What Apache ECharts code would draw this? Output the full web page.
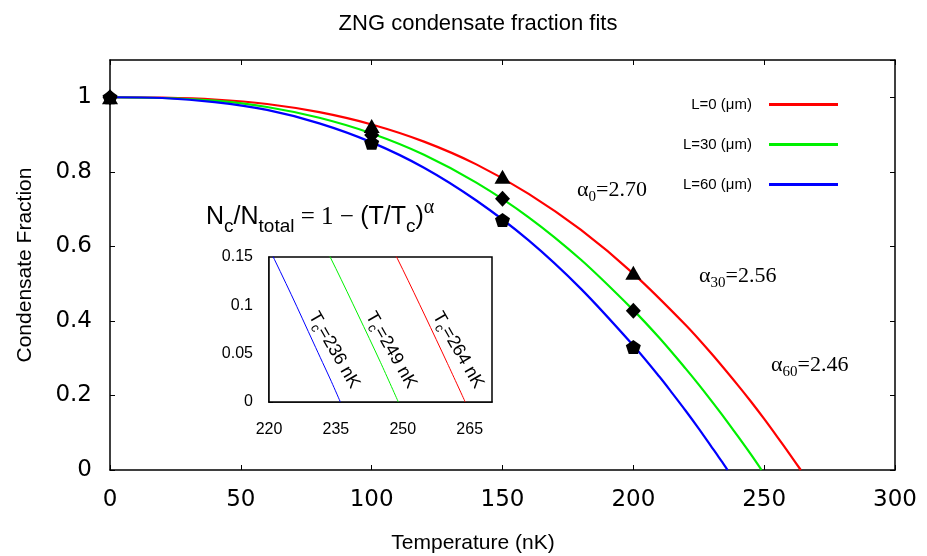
<!DOCTYPE html>
<html>
<head>
<meta charset="utf-8">
<script src="https://cdn.jsdelivr.net/npm/echarts@6/dist/echarts.min.js"></script>
<style>html,body{margin:0;padding:0;background:#fff}#c{width:927px;height:556px}</style>
</head>
<body>
<div id="c"></div>
<script>
// ---- data ----
const seriesNames = ['L=0 (μm)', 'L=30 (μm)', 'L=60 (μm)'];
const lineColors = ['#ff0000', '#00f000', '#0000ff'];

// fitted curves (temperature nK, condensate fraction)
const fitT0  = [0, 20, 40, 60, 80, 100, 120, 140, 160, 180, 200, 220, 230, 240, 245, 250, 255, 260, 264];
const fitN0  = [1, 0.999, 0.994, 0.982, 0.960, 0.927, 0.881, 0.820, 0.741, 0.644, 0.527, 0.389, 0.311, 0.227, 0.183, 0.137, 0.089, 0.040, 0];
const fitT30 = [0, 20, 40, 60, 80, 100, 120, 140, 160, 180, 200, 210, 220, 225, 230, 235, 240, 245, 249];
const fitN30 = [1, 0.998, 0.991, 0.974, 0.945, 0.903, 0.846, 0.771, 0.678, 0.564, 0.429, 0.354, 0.272, 0.229, 0.184, 0.138, 0.090, 0.041, 0];
const fitT60 = [0, 20, 40, 60, 80, 100, 120, 140, 160, 180, 200, 210, 215, 220, 225, 230, 232, 234, 236];
const fitN60 = [1, 0.998, 0.987, 0.966, 0.930, 0.879, 0.811, 0.723, 0.616, 0.486, 0.334, 0.250, 0.205, 0.159, 0.111, 0.061, 0.041, 0.021, 0];

// measured points
const markT = [0, 100, 150, 200];
const markN0  = [1, 0.923, 0.787, 0.529];
const markN30 = [1, 0.899, 0.728, 0.427];
const markN60 = [1, 0.878, 0.671, 0.330];

// axis ticks
const xTicksMain = [0, 300, 50];
const yTicksMain = [0, 1.1, 0.2];
const insetXLabels = [220, 235, 250, 265];
const insetX = [220, 270];
const insetY = [0, 0.15, 0.05];

// annotations
const alphaLabels = [['0', '2.70'], ['30', '2.56'], ['60', '2.46']];
const tcLabels = ['236', '249', '264'];

// ---- build ----
const pair = (xs, ys) => xs.map((x, i) => [x, ys[i]]);
const fits = [pair(fitT0, fitN0), pair(fitT30, fitN30), pair(fitT60, fitN60)];
const marks = [pair(markT, markN0), pair(markT, markN30), pair(markT, markN60)];
const symbols = ['triangle', 'diamond', 'path://M0,-1 L0.951,-0.309 L0.588,0.809 L-0.588,0.809 L-0.951,-0.309 Z'];
const symSizes = [[16, 14], [15, 16], [15, 14]];

const SANS = '"Liberation Sans", Helvetica, Arial, sans-serif';
const SERIF = '"Liberation Serif", "Times New Roman", serif';
const TICKF = '"DejaVu Sans", "Liberation Sans", sans-serif';

const chart = echarts.init(document.getElementById('c'), null, {renderer: 'canvas'});

const axLine = {onZero: false, lineStyle: {color: '#000', width: 1.5}};
const series = [];
fits.forEach((d, i) => {
  series.push({
    name: seriesNames[i], type: 'line', data: d, xAxisIndex: 0, yAxisIndex: 0,
    showSymbol: false, smooth: 0.3, lineStyle: {color: lineColors[i], width: 2.2},
    itemStyle: {color: lineColors[i]}, z: 3, silent: true
  });
});
fits.forEach((d, i) => {
  series.push({
    name: seriesNames[i], type: 'line', data: d, xAxisIndex: 2, yAxisIndex: 2,
    showSymbol: false, smooth: 0.3, clip: true, lineStyle: {color: lineColors[i], width: 1},
    itemStyle: {color: lineColors[i]}, z: 6, silent: true
  });
});
marks.forEach((d, i) => {
  series.push({
    type: 'scatter', data: d, xAxisIndex: 0, yAxisIndex: 0,
    symbol: symbols[i], symbolSize: symSizes[i], itemStyle: {color: '#000', opacity: 1}, z: 7 + i, silent: true
  });
});

const alphaRich = {
  a: {fontFamily: SERIF, fontSize: 22, color: '#000', lineHeight: 30, verticalAlign: 'middle'},
  s: {fontFamily: SERIF, fontSize: 15, color: '#000', lineHeight: 30, verticalAlign: 'bottom'}
};
const alphaPos = [[577, 190], [699, 276], [771, 365]];
const tcPos = [[334, 350], [391, 350], [458, 350]];

const graphic = [];
alphaLabels.forEach((a, i) => {
  graphic.push({
    type: 'text', x: alphaPos[i][0], y: alphaPos[i][1], z: 20,
    style: {text: '{a|α}{s|' + a[0] + '}{a|=' + a[1] + '}', rich: alphaRich, verticalAlign: 'middle', align: 'left'}
  });
});
tcLabels.forEach((t, i) => {
  graphic.push({
    type: 'text', x: tcPos[i][0], y: tcPos[i][1], rotation: -Math.PI * 60 / 180, z: 20,
    style: {
      text: '{a|T}{s|c}{a|=' + t + ' nK}', align: 'center', verticalAlign: 'middle',
      rich: {
        a: {fontFamily: SANS, fontSize: 18, color: '#000', lineHeight: 24, verticalAlign: 'middle'},
        s: {fontFamily: SANS, fontSize: 13, color: '#000', lineHeight: 24, verticalAlign: 'bottom'}
      }
    }
  });
});
// formula
graphic.push({
  type: 'text', x: 206, y: 217, z: 20,
  style: {
    text: '{n|N}{s|c}{n|/N}{s|total}{m| = 1 − }{n|(T/T}{s|c}{n|)}{p|α}',
    verticalAlign: 'middle', align: 'left',
    rich: {
      n: {fontFamily: SANS, fontSize: 25, color: '#000', lineHeight: 38, verticalAlign: 'middle'},
      m: {fontFamily: SERIF, fontSize: 25, color: '#000', lineHeight: 38, verticalAlign: 'middle'},
      s: {fontFamily: SANS, fontSize: 19, color: '#000', lineHeight: 38, verticalAlign: 'bottom'},
      p: {fontFamily: SERIF, fontSize: 20, color: '#000', lineHeight: 38, verticalAlign: 'top'}
    }
  }
});
// axis names
graphic.push({
  type: 'text', x: 473, y: 543, z: 20,
  style: {text: 'Temperature (nK)', fontFamily: SANS, fontSize: 21, fill: '#000', align: 'center', verticalAlign: 'middle'}
});
graphic.push({
  type: 'text', x: 25, y: 265, rotation: Math.PI / 2, z: 20,
  style: {text: 'Condensate Fraction', fontFamily: SANS, fontSize: 21, fill: '#000', align: 'center', verticalAlign: 'middle'}
});

const option = {
  backgroundColor: '#fff',
  animation: false,
  title: {
    text: 'ZNG condensate fraction fits', left: 473, top: 8, textAlign: 'center',
    textStyle: {fontFamily: SANS, fontSize: 22, fontWeight: 'normal', color: '#000'}
  },
  legend: {
    data: seriesNames, orient: 'vertical', right: 84, top: 92, align: 'right',
    icon: 'rect', itemWidth: 69, itemHeight: 3, itemGap: 25,
    textStyle: {fontFamily: SANS, fontSize: 15, color: '#000', padding: [0, 12, 0, 0]},
    selectedMode: false
  },
  grid: [
    {left: 110, right: 32, top: 60, bottom: 86, show: false},
    {left: 269, top: 257, width: 223, height: 145, show: true, borderColor: '#000', borderWidth: 1.5, backgroundColor: '#fff', z: 1}
  ],
  xAxis: [
    {type: 'value', gridIndex: 0, min: xTicksMain[0], max: xTicksMain[1], interval: xTicksMain[2],
     axisLine: axLine, axisTick: {inside: true, length: 5, lineStyle: {color: '#000'}},
     splitLine: {show: false},
     axisLabel: {fontFamily: TICKF, fontSize: 23, color: '#000', margin: 19}},
    {type: 'value', gridIndex: 0, position: 'top', min: xTicksMain[0], max: xTicksMain[1], interval: xTicksMain[2],
     axisLine: axLine, axisTick: {inside: true, length: 5, lineStyle: {color: '#000'}},
     splitLine: {show: false}, axisLabel: {show: false}},
    {type: 'value', gridIndex: 1, min: insetX[0], max: insetX[1], interval: 5,
     axisLine: {onZero: false, lineStyle: {color: '#000', width: 1.5}}, axisTick: {show: false}, splitLine: {show: false},
     axisLabel: {fontFamily: SANS, fontSize: 16, color: '#000', margin: 20,
       formatter: v => insetXLabels.indexOf(v) >= 0 ? String(v) : ''}}
  ],
  yAxis: [
    {type: 'value', gridIndex: 0, min: yTicksMain[0], max: yTicksMain[1], interval: yTicksMain[2],
     axisLine: {show: true, onZero: false, lineStyle: {color: '#000', width: 1.5}}, axisTick: {show: true, inside: true, length: 5, lineStyle: {color: '#000'}},
     splitLine: {show: false},
     axisLabel: {fontFamily: TICKF, fontSize: 23, color: '#000', margin: 18, showMaxLabel: false}},
    {type: 'value', gridIndex: 0, position: 'right', min: yTicksMain[0], max: yTicksMain[1], interval: yTicksMain[2],
     axisLine: {show: true, onZero: false, lineStyle: {color: '#000', width: 1.5}}, axisTick: {show: true, inside: true, length: 5, lineStyle: {color: '#000'}},
     splitLine: {show: false}, axisLabel: {show: false}},
    {type: 'value', gridIndex: 1, min: insetY[0], max: insetY[1], interval: insetY[2],
     axisLine: {show: true, onZero: false, lineStyle: {color: '#000', width: 1.5}}, axisTick: {show: true, inside: true, length: 4, lineStyle: {color: '#000'}},
     splitLine: {show: false},
     axisLabel: {fontFamily: SANS, fontSize: 16, color: '#000', margin: 16}}
  ],
  series: series,
  graphic: graphic
};
chart.setOption(option);
</script>
</body>
</html>
